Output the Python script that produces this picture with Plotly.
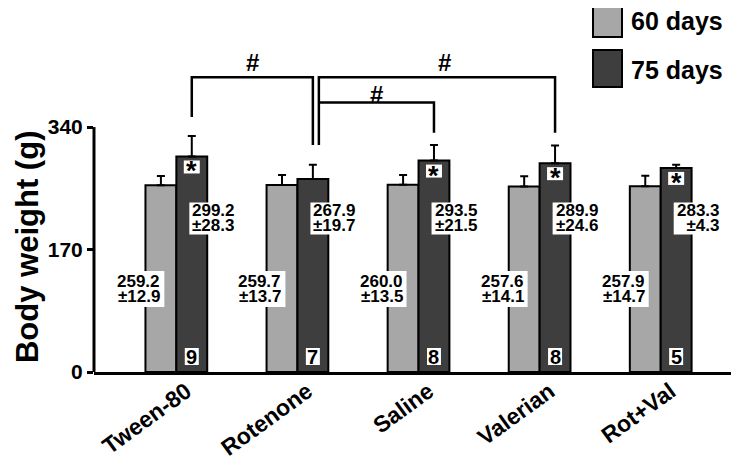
import plotly.graph_objects as go

# ---------------- data ----------------
categories = ["Tween-80", "Rotenone", "Saline", "Valerian", "Rot+Val"]
days60_mean = [259.2, 259.7, 260.0, 257.6, 257.9]
days60_sd = [12.9, 13.7, 13.5, 14.1, 14.7]
days75_mean = [299.2, 267.9, 293.5, 289.9, 283.3]
days75_sd = [28.3, 19.7, 21.5, 24.6, 4.3]
n_animals = [9, 7, 8, 8, 5]
star_75 = [True, False, True, True, True]
y_ticks = [0, 170, 340]
series_names = ["60 days", "75 days"]

# ---------------- style ----------------
LIGHT = "#a7a7a7"
DARK = "#3e3e3e"
FONT = "Liberation Sans, Arial, Helvetica, sans-serif"
OFF = 8                      # page body margin offset
W, H = 739 - OFF, 472 - OFF
ML, MR, MT, MB = 94 - OFF, 2, 50 - OFF, 100
X_RANGE = [-0.68, 4.63]
Y_RANGE = [0, 447]
BARGAP = 0.49
HALF = (1 - BARGAP) / 4          # offset of each bar centre from category centre
PX_PER_X = (W - ML - MR) / (X_RANGE[1] - X_RANGE[0])

xs = list(range(len(categories)))

fig = go.Figure()
for name, mean, sd, col in [(series_names[0], days60_mean, days60_sd, LIGHT),
                            (series_names[1], days75_mean, days75_sd, DARK)]:
    fig.add_trace(go.Bar(
        x=xs, y=mean, name=name,
        marker=dict(color=col, line=dict(color="black", width=2)),
        error_y=dict(type="data", symmetric=False, array=sd,
                     arrayminus=[0] * len(sd), color="black",
                     thickness=2, width=4),
        showlegend=False, hoverinfo="skip",
    ))

shapes = []
annotations = []

def wbox(xa, ya, x0, x1, y0, y1):
    shapes.append(dict(type="rect", xref="x", yref="y", xsizemode="pixel",
                       ysizemode="pixel", xanchor=xa, yanchor=ya,
                       x0=x0, x1=x1, y0=y0, y1=y1, fillcolor="white",
                       line=dict(width=0), layer="above"))

def txt(x, y, s, size, xanchor="center", xshift=0, yshift=0, xref="x", yref="y"):
    annotations.append(dict(x=x, y=y, xref=xref, yref=yref, text=s,
                            showarrow=False, xanchor=xanchor, yanchor="middle",
                            xshift=xshift, yshift=yshift,
                            font=dict(family=FONT, size=size, color="black",
                                      weight="bold")))

LBL_FS = 17
LIGHT_MID = 115.2
DARK_MID = 213.2
for i in xs:
    # 60-day label (left of boundary)
    wbox(i, LIGHT_MID, -65, -12, -18, 18)
    txt(i, LIGHT_MID, f"{days60_mean[i]:.1f}", LBL_FS, "right", -14, 7.5)
    txt(i, LIGHT_MID, f"±{days60_sd[i]:.1f}", LBL_FS, "right", -14, -7.5)
    # 75-day label (right of boundary)
    wbox(i, DARK_MID, 13, 61, -16, 16)
    sd_s = f"±{days75_sd[i]:.1f}"
    if len(sd_s) < 5:
        sd_s = "\u00a0\u00a0" + sd_s
    txt(i, DARK_MID, f"{days75_mean[i]:.1f}", LBL_FS, "left", 14, 7.5)
    txt(i, DARK_MID, sd_s, LBL_FS, "left", 14, -7.5)
    # n in the 75-day bar
    wbox(i + HALF, 21.5, -7, 7, -8.5, 8.5)
    txt(i + HALF, 21.5, str(n_animals[i]), 20)
    # significance star
    if star_75[i]:
        wbox(i + HALF, days75_mean[i], -8, 8, -17, -4)
        txt(i + HALF, days75_mean[i], "*", 27, yshift=-15)

# brackets (#)
dx2 = 6 / PX_PER_X
xa = 0 + HALF
xb = 1 + HALF
xb2 = 1 + HALF + dx2
xc = 2 + HALF
xd = 3 + HALF
LVL_HI, LVL_LO = 409, 374
line_style = dict(color="black", width=2.5)
shapes.append(dict(type="path", xref="x", yref="y", line=line_style,
                   path=f"M {xa},354 L {xa},{LVL_HI} L {xb},{LVL_HI} L {xb},315"))
shapes.append(dict(type="path", xref="x", yref="y", line=line_style,
                   path=f"M {xb2},315 L {xb2},{LVL_HI} L {xd},{LVL_HI} L {xd},332"))
shapes.append(dict(type="path", xref="x", yref="y", line=line_style,
                   path=f"M {xb2},{LVL_LO} L {xc},{LVL_LO} L {xc},332"))
txt((xa + xb) / 2, 430, "#", 24)
txt(2.215, 430, "#", 24)
txt((xb2 + xc) / 2, 385.5, "#", 24)

# y axis line (only up to 340)
shapes.append(dict(type="line", xref="paper", yref="y", x0=0, x1=0,
                   y0=0, y1=max(y_ticks), line=dict(color="black", width=3)))

# y title
annotations.append(dict(x=0, y=173.5, xref="paper", yref="y", xshift=-67,
                        text="Body weight (g)", textangle=-90, showarrow=False,
                        xanchor="center", yanchor="middle",
                        font=dict(family=FONT, size=31, color="black", weight="bold")))

# legend (manual), positions given in screen pixels
pw = W - ML - MR
ph = H - MT - MB
def px2paper(px, py):
    return (px - OFF - ML) / pw, (H - MB - (py - OFF)) / ph
for (top, bot, col, name, ty) in [(3, 37, LIGHT, series_names[0], 21),
                                  (50, 87, DARK, series_names[1], 70)]:
    x0, y0 = px2paper(593, bot)
    x1, y1 = px2paper(622, top)
    shapes.append(dict(type="rect", xref="paper", yref="paper", x0=x0, x1=x1,
                       y0=y0, y1=y1, fillcolor=col,
                       line=dict(color="black", width=2)))
    tx, tyy = px2paper(629, ty)
    txt(tx, tyy, name, 25, "left", xref="paper", yref="paper")

fig.update_layout(
    width=W, height=H,
    margin=dict(l=ML, r=MR, t=MT, b=MB, pad=0),
    paper_bgcolor="white", plot_bgcolor="white",
    barmode="group", bargap=BARGAP, bargroupgap=0,
    shapes=shapes, annotations=annotations,
    xaxis=dict(range=X_RANGE, tickvals=xs, ticktext=categories, tickangle=-36,
               tickfont=dict(family=FONT, size=23, color="black", weight="bold"),
               showline=True, linecolor="black", linewidth=3, ticks="",
               ticklabelshift=10, ticklabelstandoff=-6,
               showgrid=False, zeroline=False, automargin=False),
    yaxis=dict(range=Y_RANGE, tickvals=y_ticks, ticks="outside", ticklen=6,
               tickwidth=2.5, tickcolor="black",
               tickfont=dict(family=FONT, size=21, color="black", weight="bold"),
               showline=False, showgrid=False, zeroline=False, automargin=False),
)

fig.write_html("out.html")
